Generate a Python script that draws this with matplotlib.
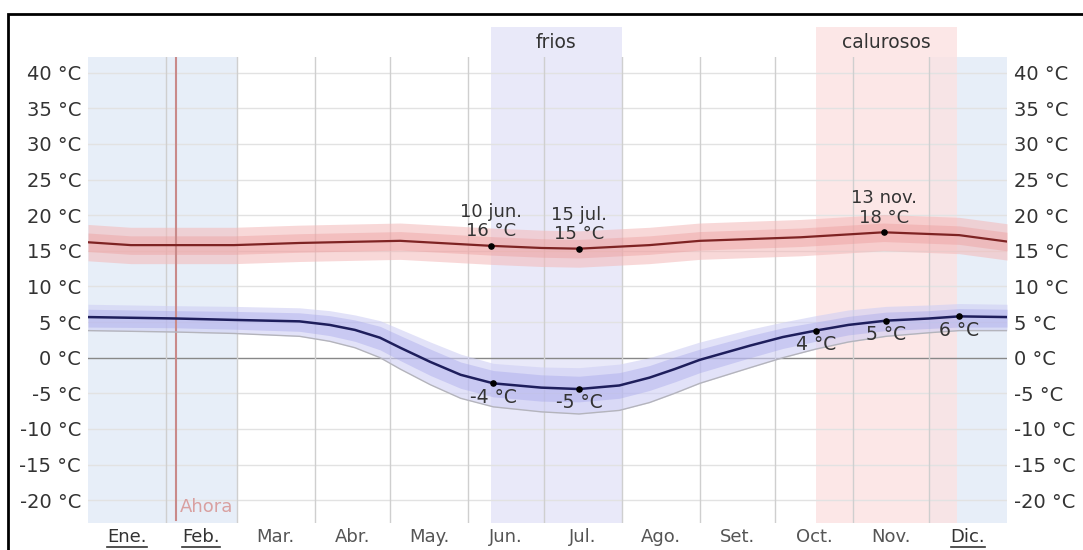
import matplotlib.pyplot as plt
from matplotlib.lines import Line2D
from matplotlib.patches import Rectangle

# ---- data (day of year 0..365) ----
months = ["Ene.", "Feb.", "Mar.", "Abr.", "May.", "Jun.", "Jul.", "Ago.", "Set.", "Oct.", "Nov.", "Dic."]
month_edges = [0, 31, 59, 90, 120, 151, 181, 212, 243, 273, 304, 334, 365]
underlined = ["Ene.", "Feb.", "Dic."]

high_days = [0, 17, 35, 58, 84, 124, 160, 180, 195, 223, 243, 283, 316, 346, 365]
high_mean = [16.2, 15.8, 15.8, 15.8, 16.1, 16.4, 15.7, 15.4, 15.3, 15.8, 16.4, 16.9, 17.6, 17.2, 16.3]
high_p25 = [14.9, 14.5, 14.5, 14.5, 14.8, 15.1, 14.4, 14.1, 14.0, 14.5, 15.1, 15.6, 16.3, 15.9, 15.0]
high_p75 = [17.5, 17.1, 17.1, 17.1, 17.4, 17.7, 17.0, 16.7, 16.6, 17.1, 17.7, 18.2, 18.9, 18.5, 17.6]
high_p10 = [13.6, 13.2, 13.2, 13.2, 13.5, 13.8, 13.1, 12.8, 12.7, 13.2, 13.8, 14.3, 15.0, 14.6, 13.7]
high_p90 = [18.7, 18.3, 18.3, 18.3, 18.6, 18.9, 18.2, 17.9, 17.8, 18.3, 18.9, 19.4, 20.1, 19.7, 18.8]

low_days = [0, 35, 58, 84, 96, 106, 116, 124, 136, 148, 161, 180, 195, 211, 223, 233, 243, 263, 276, 289, 302, 317, 334, 346, 365]
low_mean = [5.7, 5.5, 5.3, 5.1, 4.6, 3.9, 2.8, 1.4, -0.6, -2.4, -3.6, -4.2, -4.4, -3.9, -2.8, -1.6, -0.3, 1.7, 2.9, 3.8, 4.6, 5.2, 5.5, 5.8, 5.7]
low_p25 = [4.3, 4.2, 4.0, 3.7, 3.1, 2.3, 1.1, -0.4, -2.5, -4.3, -5.5, -6.1, -6.2, -5.7, -4.6, -3.4, -2.1, 0.0, 1.3, 2.3, 3.2, 3.8, 4.1, 4.3, 4.3]
low_p75 = [6.8, 6.6, 6.5, 6.3, 5.9, 5.3, 4.4, 3.1, 1.2, -0.6, -1.8, -2.4, -2.6, -2.1, -1.1, 0.1, 1.2, 3.1, 4.2, 5.0, 5.8, 6.4, 6.6, 6.9, 6.8]
low_p10 = [3.8, 3.6, 3.4, 3.0, 2.3, 1.4, 0.0, -1.6, -3.8, -5.7, -6.9, -7.6, -7.9, -7.4, -6.3, -5.0, -3.6, -1.4, 0.0, 1.2, 2.2, 3.0, 3.5, 3.8, 3.8]
low_p90 = [7.5, 7.3, 7.2, 7.0, 6.6, 6.0, 5.2, 4.0, 2.2, 0.5, -0.8, -1.3, -1.4, -0.9, 0.0, 1.1, 2.2, 4.0, 5.0, 5.9, 6.7, 7.2, 7.4, 7.6, 7.5]

high_mark_days = [160, 195, 316]
high_mark_vals = [15.7, 15.3, 17.6]
high_mark_text = ["10 jun.\n16 °C", "15 jul.\n15 °C", "13 nov.\n18 °C"]

low_mark_days = [161, 195, 289, 317, 346]
low_mark_vals = [-3.6, -4.4, 3.8, 5.2, 5.8]
low_mark_text = ["-4 °C", "-5 °C", "4 °C", "5 °C", "6 °C"]

yticks = list(range(-20, 45, 5))
cold_season = (160, 212)
warm_season = (289, 345)
blue_shades = [(0, 59), (334, 365)]
now_day = 35

# ---- figure ----
fig = plt.figure(figsize=(10.83, 5.5), dpi=100)
ax = fig.add_axes([88 / 1083, 1 - 523 / 550, 919 / 1083, 466 / 550])
ax.set_xlim(0, 365)
ax.set_ylim(-23.2, 42.2)
for s in ax.spines.values():
    s.set_visible(False)

# background shading
for a, b in blue_shades:
    ax.axvspan(a, b, color="#e7eef8", zorder=0, lw=0)
ax.axvspan(*cold_season, ymin=0, ymax=1.064, color="#e9e9f9", zorder=0, lw=0, clip_on=False)
ax.axvspan(*warm_season, ymin=0, ymax=1.064, color="#fce2e2", alpha=0.8, zorder=0, lw=0, clip_on=False)
ax.text(sum(cold_season) / 2, 1.032, "frios", transform=ax.get_xaxis_transform(),
        ha="center", va="center", fontsize=13.5, color="#333333")
ax.text(sum(warm_season) / 2, 1.032, "calurosos", transform=ax.get_xaxis_transform(),
        ha="center", va="center", fontsize=13.5, color="#333333")

# grid
for y in yticks:
    ax.axhline(y, color="#888888" if y == 0 else "#e2e2e2", lw=1, zorder=0.5)
for d in month_edges[1:-1]:
    ax.axvline(d, color="#cfcfcf", lw=1, zorder=0.5)

# now line
ax.plot([now_day, now_day], [-22.8, 42.2], color="#c98a8a", lw=1.5, zorder=1.5)
ax.text(now_day + 1.3, -20.9, "Ahora", color="#d9a0a0", fontsize=13, va="center", ha="left")

# high temperature
ax.fill_between(high_days, high_p10, high_p90, color="#f4b8b8", alpha=0.55, lw=0, zorder=1)
ax.fill_between(high_days, high_p25, high_p75, color="#ec9a9a", alpha=0.4, lw=0, zorder=1)
ax.plot(high_days, high_mean, color="#7e2323", lw=1.6, zorder=2)

# low temperature
ax.fill_between(low_days, low_p10, low_p90, color="#cfcff4", alpha=0.6, lw=0, zorder=1)
ax.fill_between(low_days, low_p25, low_p75, color="#a4a4ea", alpha=0.4, lw=0, zorder=1)
ax.plot(low_days, low_p10, color="#b4b4bc", lw=1, zorder=1.5)
ax.plot(low_days, low_mean, color="#1e1e5c", lw=1.8, zorder=2)

# marks
ax.scatter(high_mark_days, high_mark_vals, s=14, color="black", zorder=3)
for d, v, t in zip(high_mark_days, high_mark_vals, high_mark_text):
    ax.annotate(t, (d, v), xytext=(0, 4), textcoords="offset points", ha="center", va="bottom",
                fontsize=13, color="#333333", linespacing=1.1, zorder=4)
ax.scatter(low_mark_days, low_mark_vals, s=14, color="black", zorder=3)
for d, v, t in zip(low_mark_days, low_mark_vals, low_mark_text):
    ax.annotate(t, (d, v), xytext=(0, -3), textcoords="offset points", ha="center", va="top",
                fontsize=13.5, color="#333333", zorder=4)

# y ticks both sides
ax.set_yticks(yticks)
ax.set_yticklabels([f"{y} °C" for y in yticks])
ax.set_xticks([])
ax.tick_params(axis="y", length=0, pad=5, labelsize=14, labelcolor="#333333",
               labelleft=True, labelright=True)

# month labels
month_texts = []
for i, m in enumerate(months):
    c = (month_edges[i] + month_edges[i + 1]) / 2
    t = ax.text(c, -0.03, m, transform=ax.get_xaxis_transform(), ha="center", va="center",
                fontsize=13, color="#333333" if m in underlined else "#555555")
    month_texts.append(t)

# frame around image
fig.add_artist(Rectangle((8 / 1083, -0.1), 1.2, 1.1 - 14 / 550, transform=fig.transFigure,
                         fill=False, ec="black", lw=2))

fig.canvas.draw()
r = fig.canvas.get_renderer()
for t in month_texts:
    if t.get_text() in underlined:
        bb = t.get_window_extent(r).transformed(fig.transFigure.inverted())
        yy = bb.y0 - 1 / 550
        fig.add_artist(Line2D([bb.x0, bb.x1], [yy, yy], transform=fig.transFigure,
                              color="#333333", lw=1.2))

fig.savefig("out.png", dpi=100)
